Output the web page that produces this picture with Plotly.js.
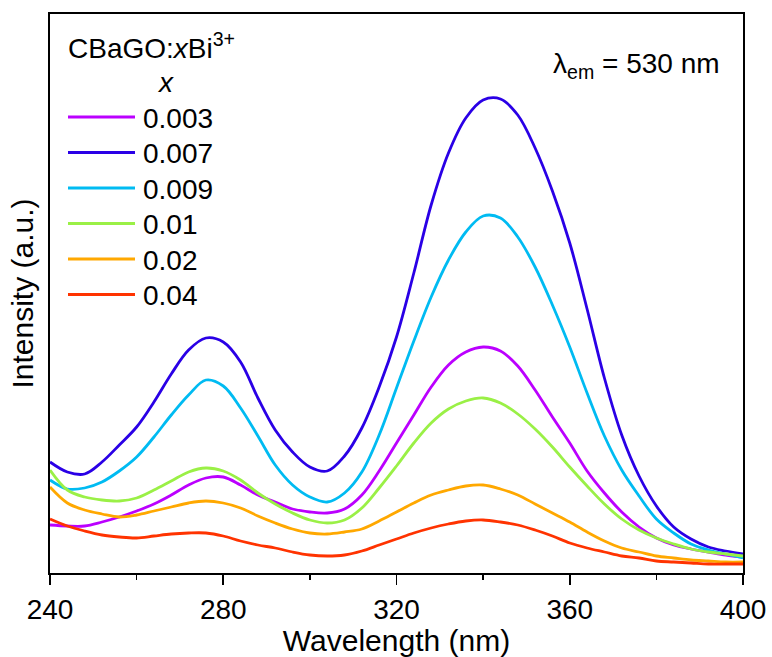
<!DOCTYPE html>
<html>
<head>
<meta charset="utf-8">
<script src="https://cdn.plot.ly/plotly-3.0.1.min.js"></script>
<style>html,body{margin:0;padding:0;background:#fff;}#chart{width:772px;height:657px;}</style>
</head>
<body>
<div id="chart"></div>
<script>
// Wavelength grid (nm)
const wavelength = [240,244,248,252,256,260,264,268,272,276,280,284,288,292,296,300,304,308,312,316,320,324,328,332,336,340,344,348,352,356,360,364,368,372,376,380,384,388,392,396,400];

// Excitation intensity (a.u.) for each Bi3+ content x
const x0003 = [48,47,47,51,56,62,69,78,88,95,96,88,78,71,64,61,60,64,78,102,130,158,186,208,221,226,222,207,183,156,130,102,80,61,46,35,28,24,21,18,16];
const x0007 = [111,101,99,111,128,146,171,199,223,235,231,211,175,143,121,106,102,117,145,186,236,300,368,420,455,473,474,458,425,382,330,264,195,138,97,67,46,34,26,22,19];
const x0009 = [93,84,85,91,102,116,136,158,178,193,187,165,137,108,88,76,71,80,101,138,185,232,276,313,341,357,355,336,306,268,226,180,137,103,77,54,40,29,23,19,15];
const x001  = [103,83,76,73,72,75,83,92,101,105,102,93,80,69,60,53,50,53,65,85,107,130,150,164,172,175,170,159,144,126,106,87,69,54,43,35,29,24,21,19,17];
const x002  = [86,70,63,59,56,58,62,66,70,72,70,65,57,50,44,40,39,41,44,52,61,70,78,83,87,88,84,78,69,60,51,41,32,25,21,17,15,13,12,11,11];
const x004  = [54,47,42,38,36,35,37,39,40,40,37,32,28,25,21,18,17,18,22,28,34,40,45,49,52,53,51,48,43,37,30,25,21,17,15,12,11,10,9,9,9];

const seriesNames  = ['0.003','0.007','0.009','0.01','0.02','0.04'];
const seriesValues = [x0003, x0007, x0009, x001, x002, x004];
const seriesColors = ['#BB00FF','#2A00E6','#00BBF2','#9AF046','#FFA800','#FF3300'];

const xTicks = [240,280,320,360,400];

const FONT = 'Liberation Sans, Arial, sans-serif';

const traces = seriesNames.map((n,i)=>({
  x: wavelength, y: seriesValues[i], type:'scatter', mode:'lines', name:n,
  line:{color:seriesColors[i], width:2.8, shape:'spline', smoothing:1},
  showlegend:false
}));

// Manual legend (long line samples like the original)
const L = 50, R = 743, T = 14, B = 573;
const W = R-L, H = B-T;
const px2x = p => (p-L)/W;
const py2y = p => (B-p)/H;
const rowY = [117,152.5,188,223.5,259,294.5];
const shapes = [], annotations = [];
seriesNames.forEach((n,i)=>{
  shapes.push({type:'line', xref:'paper', yref:'paper', x0:px2x(68), x1:px2x(135), y0:py2y(rowY[i]), y1:py2y(rowY[i]), line:{color:seriesColors[i], width:2.8}});
  annotations.push({xref:'paper', yref:'paper', x:px2x(141), y:py2y(rowY[i]+1), xanchor:'left', yanchor:'middle', text:n, showarrow:false, font:{family:FONT, size:28, color:'#000'}});
});
annotations.push({xref:'paper', yref:'paper', x:px2x(66), y:py2y(46), xanchor:'left', yanchor:'middle', text:'CBaGO:<i>x</i>Bi<sup>3+</sup>', showarrow:false, font:{family:FONT, size:28, color:'#000'}});
annotations.push({xref:'paper', yref:'paper', x:px2x(165), y:py2y(82), xanchor:'center', yanchor:'middle', text:'<i>x</i>', showarrow:false, font:{family:FONT, size:28, color:'#000'}});
annotations.push({xref:'paper', yref:'paper', x:px2x(722), y:py2y(65), xanchor:'right', yanchor:'middle', text:'λ<sub>em</sub> = 530 nm', showarrow:false, font:{family:FONT, size:28, color:'#000'}});

const layout = {
  width:772, height:657,
  margin:{l:L, r:772-R, t:T, b:657-B, pad:0},
  paper_bgcolor:'#fff', plot_bgcolor:'#fff',
  font:{family:FONT, size:28, color:'#000'},
  showlegend:false,
  xaxis:{
    range:[240,400], tickvals:xTicks, ticks:'outside', ticklen:10, tickwidth:1.6, tickcolor:'#000',
    minor:{dtick:20, tick0:240, ticks:'outside', ticklen:5, tickwidth:1.6, tickcolor:'#000', showgrid:false},
    showline:true, linecolor:'#000', linewidth:2, mirror:true, showgrid:false, zeroline:false,
    tickfont:{family:FONT, size:28, color:'#000'},
    title:{text:'Wavelength (nm)', font:{family:FONT, size:30, color:'#000'}, standoff:4}
  },
  yaxis:{
    range:[0,559], showticklabels:false, ticks:'', showline:true, linecolor:'#000', linewidth:2, mirror:true,
    showgrid:false, zeroline:false,
    title:{text:'Intensity (a.u.)', font:{family:FONT, size:30, color:'#000'}, standoff:6}
  },
  shapes:shapes, annotations:annotations
};

Plotly.newPlot('chart', traces, layout, {displayModeBar:false, staticPlot:true});
</script>
</body>
</html>
